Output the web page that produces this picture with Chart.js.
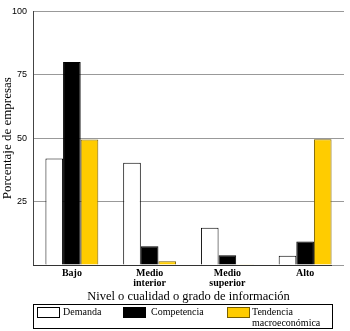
<!DOCTYPE html>
<html><head><meta charset="utf-8">
<script src="https://cdn.jsdelivr.net/npm/chart.js@4/dist/chart.umd.min.js"></script>
<style>
html,body{margin:0;padding:0;background:#fff;}
#wrap{position:relative;width:350px;height:331px;}
#legend{position:absolute;left:33px;top:304px;width:300px;height:25px;border:1px solid #000;font-family:"Liberation Serif",serif;font-size:10px;color:#000;box-sizing:border-box;}
.sw{position:absolute;top:2px;width:23px;height:11px;border:1px solid #000;box-sizing:border-box;}
.lb{position:absolute;top:1px;line-height:11px;}
</style></head>
<body><div id="wrap"><canvas id="c" width="350" height="331"></canvas>
<div id="legend">
 <div class="sw" style="left:3px;background:#fff"></div><div class="lb" style="left:29px">Demanda</div>
 <div class="sw" style="left:89px;background:#000"></div><div class="lb" style="left:117px">Competencia</div>
 <div class="sw" style="left:193px;background:#FFCC00;border-color:#7a6000"></div><div class="lb" style="left:218px">Tendencia<br>macroeconómica</div>
</div></div>
<script>
const categories = [['Bajo'], ['Medio','interior'], ['Medio','superior'], ['Alto']];
const demanda = [42, 40.3, 14.7, 3.6];
const competencia = [80, 7.4, 3.8, 9.3];
const tendencia = [49.5, 1.5, 0.3, 49.6];
const yTicks = [25, 50, 75, 100];
const serif = '"Liberation Serif", serif';

const axisLine = {
  id:'axisLine',
  afterDatasetsDraw(chart){
    const a = chart.chartArea, ctx = chart.ctx;
    ctx.save();
    ctx.strokeStyle = '#333'; ctx.lineWidth = 1;
    ctx.beginPath();
    ctx.moveTo(a.left, Math.round(a.bottom)+0.5);
    ctx.lineTo(a.right-12, Math.round(a.bottom)+0.5);
    ctx.stroke();
    ctx.restore();
  }
};

new Chart(document.getElementById('c'), {
  type: 'bar',
  data: {
    labels: categories,
    datasets: [
      {label:'Demanda', data:demanda, backgroundColor:'#ffffff', borderColor:'#000', borderWidth:1},
      {label:'Competencia', data:competencia, backgroundColor:'#000000', borderColor:'#000', borderWidth:1},
      {label:'Tendencia macroeconómica', data:tendencia, backgroundColor:'#FFCC00', borderColor:'#7a6000', borderWidth:1}
    ]
  },
  plugins:[axisLine],
  options: {
    responsive:false, animation:false,
    layout:{padding:{top:7,right:6,bottom:27,left:0}},
    plugins:{legend:{display:false}, tooltip:{enabled:false}},
    datasets:{bar:{categoryPercentage:0.68, barPercentage:1.0}},
    scales:{
      x:{
        grid:{display:false,drawTicks:false},
        border:{display:false},
        ticks:{color:'#000',font:{family:serif,size:10,weight:'bold',lineHeight:1.0},padding:3,maxRotation:0,autoSkip:false},
        title:{display:true,text:'Nivel o cualidad o grado de información',color:'#000',font:{family:serif,size:12.5},padding:{top:0,bottom:0}},
        afterFit:s=>{s.height=39;}
      },
      y:{
        min:0,max:100,
        afterBuildTicks:s=>{s.ticks=[0].concat(yTicks).map(v=>({value:v}));},
        grid:{color:'#999',lineWidth:1,drawTicks:false},
        border:{display:true,color:'#444',width:1},
        ticks:{color:'#000',font:{family:'"Liberation Sans", sans-serif',size:9},padding:6,callback:v=>v===0?'':v},
        title:{display:true,text:'Porcentaje de empresas',color:'#000',font:{family:serif,size:13},padding:{top:0,bottom:0}},
        afterFit:s=>{s.width=33;}
      }
    }
  }
});
</script></body></html>
